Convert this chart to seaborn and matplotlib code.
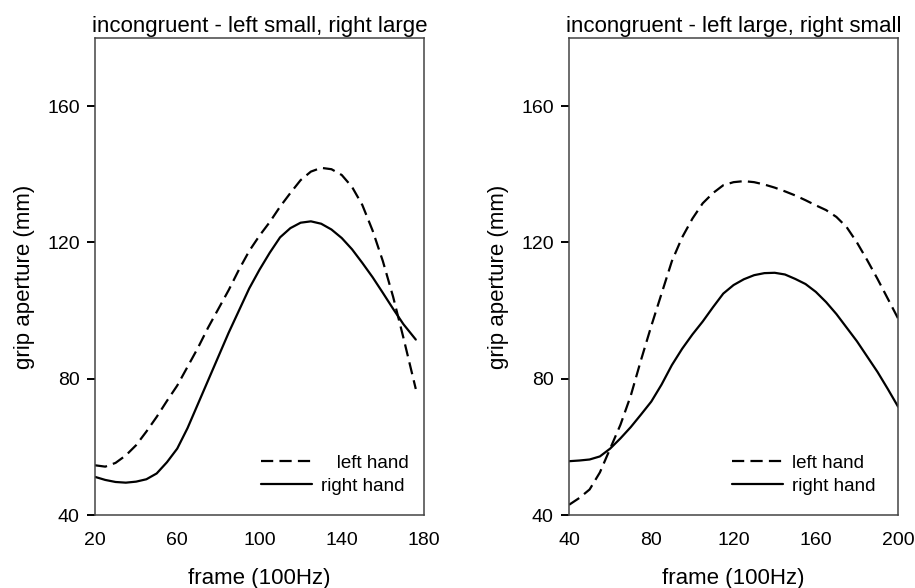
import matplotlib
matplotlib.use("Agg")
import matplotlib.pyplot as plt
import numpy as np
import pandas as pd
import seaborn as sns

# grip aperture traces
frames_a = [20, 25, 30, 35, 40, 45, 50, 55, 60, 65, 70, 75, 80, 85, 90, 95, 100,
            105, 110, 115, 120, 125, 130, 135, 140, 145, 150, 155, 160, 165, 170, 176]
left_a = [54.6, 54.2, 55.3, 57.5, 60.5, 64.5, 68.8, 73.5, 78.0, 83.5, 89.0, 95.0,
          100.5, 106.0, 112.0, 117.5, 122.0, 126.0, 130.5, 134.5, 138.3, 140.8,
          141.9, 141.5, 139.8, 136.3, 131.0, 123.5, 114.5, 104.0, 92.0, 77.0]
right_a = [51.2, 50.3, 49.7, 49.5, 49.8, 50.5, 52.2, 55.5, 59.5, 65.5, 72.5, 79.5,
           86.5, 93.5, 100.0, 106.5, 112.0, 117.0, 121.5, 124.2, 125.8, 126.2,
           125.5, 123.8, 121.3, 118.0, 114.0, 109.8, 105.2, 100.5, 96.0, 91.5]

frames_b = [40, 45, 50, 55, 60, 65, 70, 75, 80, 85, 90, 95, 100, 105, 110, 115, 120,
            125, 130, 135, 140, 145, 150, 155, 160, 165, 170, 175, 180, 185, 190,
            195, 200]
left_b = [43.0, 45.0, 47.5, 52.5, 59.5, 66.5, 75.0, 85.5, 95.5, 105.0, 114.5, 121.5,
          127.0, 131.5, 134.5, 136.8, 137.7, 138.0, 137.7, 137.0, 136.1, 135.0,
          133.8, 132.4, 130.9, 129.5, 127.5, 124.5, 120.0, 114.8, 109.3, 103.5, 97.7]
right_b = [55.8, 56.0, 56.3, 57.2, 59.5, 62.5, 65.8, 69.5, 73.3, 78.3, 84.0, 88.8,
           93.0, 96.8, 101.0, 105.0, 107.5, 109.2, 110.4, 111.0, 111.1, 110.6,
           109.3, 107.8, 105.5, 102.5, 99.0, 95.0, 91.0, 86.5, 82.0, 77.0, 71.8]

titles = ["incongruent - left small, right large",
          "incongruent - left large, right small"]
xlims = [(20, 180), (40, 200)]
xticks = [[20, 60, 100, 140, 180], [40, 80, 120, 160, 200]]
yticks = [40, 80, 120, 160]

sns.set_theme(style="ticks")
plt.rcParams["font.family"] = ["Liberation Sans", "DejaVu Sans"]
plt.rcParams["text.color"] = "black"
plt.rcParams["axes.labelcolor"] = "black"
plt.rcParams["xtick.color"] = "black"
plt.rcParams["ytick.color"] = "black"

fig = plt.figure(figsize=(9.15, 5.88), dpi=100)
ax1 = fig.add_axes([0.1038, 0.1241, 0.3596, 0.8112])
ax2 = fig.add_axes([0.6219, 0.1241, 0.3596, 0.8112])

panels = [(ax1, frames_a, left_a, right_a, "   left hand"),
          (ax2, frames_b, left_b, right_b, "left hand")]

for i, (ax, fr, lh, rh, lh_label) in enumerate(panels):
    sns.lineplot(x=fr, y=lh, ax=ax, color="black", linewidth=1.6,
                 linestyle=(0, (5.5, 2.8)), label=lh_label)
    sns.lineplot(x=fr, y=rh, ax=ax, color="black", linewidth=1.6,
                 label="right hand")
    for ln in ax.lines:
        ln.set_solid_joinstyle("round")
        ln.set_dash_joinstyle("round")

    ax.set_xlim(*xlims[i])
    ax.set_ylim(40, 180)
    ax.set_xticks(xticks[i])
    ax.set_yticks(yticks)
    ax.set_title(titles[i], fontsize=16, pad=4, color="black")
    ax.set_xlabel("frame (100Hz)", fontsize=16, labelpad=14)
    ax.set_ylabel("grip aperture (mm)", fontsize=16, labelpad=9)
    ax.tick_params(axis="y", which="major", left=True, direction="out",
                   length=6, width=1.4, color="black", labelsize=14, pad=5)
    ax.tick_params(axis="x", bottom=False, labelsize=14, pad=6)
    for t in ax.yaxis.get_major_ticks():
        t.tick1line.set_visible(True)
        t.tick1line.set_markeredgecolor("black")
    for sp in ax.spines.values():
        sp.set_visible(True)
        sp.set_color("#444444")
        sp.set_linewidth(1.1)

    anchor_x = 0.505 if i == 0 else 0.495
    ax.legend(loc="lower left", bbox_to_anchor=(anchor_x, 0.043), frameon=False,
              fontsize=13.5, handlelength=2.7, handletextpad=0.5,
              labelspacing=0.3, borderpad=0, borderaxespad=0)

fig.savefig("out.png", dpi=100)
